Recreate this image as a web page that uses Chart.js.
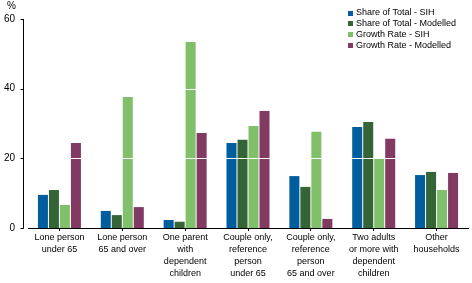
<!DOCTYPE html>
<html><head><meta charset="utf-8">
<script src="https://cdn.jsdelivr.net/npm/chart.js@4"></script>
<style>html,body{margin:0;padding:0;background:#fff}#wrap{width:472px;height:283px;position:relative}</style>
</head><body><div id="wrap"><canvas id="c"></canvas></div>
<script>
const categories = [
  ["Lone person","under 65"],
  ["Lone person","65 and over"],
  ["One parent","with","dependent","children"],
  ["Couple only,","reference","person","under 65"],
  ["Couple only,","reference","person","65 and over"],
  ["Two adults","or more with","dependent","children"],
  ["Other","households"]
];
const seriesNames = ["Share of Total - SIH","Share of Total - Modelled","Growth Rate - SIH","Growth Rate - Modelled"];
const shareSIH       = [9.5, 4.9, 2.3, 24.4, 14.9, 29.0, 15.2];
const shareModelled  = [10.9, 3.7, 1.8, 25.3, 11.8, 30.4, 16.1];
const growthSIH      = [6.6, 37.6, 53.4, 29.3, 27.6, 20.0, 10.9];
const growthModelled = [24.4, 6.0, 27.3, 33.6, 2.6, 25.6, 15.8];
const yTicks = [0, 20, 40, 60];
const unitLabel = "%";
const colors = ["#005e9e", "#356437", "#80c06a", "#823a62"];

const FONT = "'Liberation Sans', Arial, sans-serif";
const seriesData = [shareSIH, shareModelled, growthSIH, growthModelled];

const overlay = {
  id: 'overlay',
  afterDatasetsDraw(chart) {
    const ctx = chart.ctx, y = chart.scales.y, a = chart.chartArea;
    ctx.save();
    ctx.strokeStyle = '#ffffff';
    ctx.lineWidth = 1;
    yTicks.forEach(v => {
      if (v === yTicks[0] || v === yTicks[yTicks.length - 1]) return;
      const py = Math.round(y.getPixelForValue(v)) + 0.5;
      ctx.beginPath(); ctx.moveTo(a.left, py); ctx.lineTo(a.right, py); ctx.stroke();
    });
    ctx.restore();
  },
  afterDraw(chart) {
    const ctx = chart.ctx, y = chart.scales.y, a = chart.chartArea;
    ctx.save();
    // y axis line and ticks
    ctx.strokeStyle = '#000'; ctx.lineWidth = 1;
    const ax = a.left - 4.5;
    ctx.beginPath();
    ctx.moveTo(ax, y.getPixelForValue(yTicks[yTicks.length - 1]));
    ctx.lineTo(ax, y.getPixelForValue(0) + 0.5);
    ctx.stroke();
    yTicks.forEach(v => {
      const py = Math.round(y.getPixelForValue(v)) + 0.5;
      ctx.beginPath(); ctx.moveTo(ax - 3, py); ctx.lineTo(ax, py); ctx.stroke();
    });
    // unit label
    ctx.fillStyle = '#000';
    ctx.font = '10px ' + FONT;
    ctx.textAlign = 'left'; ctx.textBaseline = 'middle';
    ctx.fillText(unitLabel, 7, 6);
    // legend
    ctx.font = '9px ' + FONT;
    chart.data.datasets.forEach((ds, i) => {
      const cy = 13 + i * 10.8;
      ctx.fillStyle = ds.backgroundColor;
      ctx.fillRect(348, Math.round(cy - 2.5), 5, 5);
      ctx.fillStyle = '#000';
      ctx.fillText(ds.label, 356, cy);
    });
    ctx.restore();
  }
};

new Chart(document.getElementById('c'), {
  type: 'bar',
  data: {
    labels: categories,
    datasets: seriesNames.map((n, i) => ({
      label: n,
      data: seriesData[i],
      backgroundColor: colors[i],
      borderWidth: 0,
      categoryPercentage: 0.7,
      barPercentage: 0.91
    }))
  },
  options: {
    responsive: true,
    maintainAspectRatio: false,
    animation: false,
    layout: { padding: { top: 19, right: 4, left: 0, bottom: 0 } },
    plugins: { legend: { display: false }, tooltip: { enabled: false } },
    scales: {
      x: {
        afterFit(s) { s.height = 55; },
        grid: { display: true, drawOnChartArea: false, offset: false, drawTicks: true, tickLength: 3, color: '#000' },
        border: { display: true, color: '#000', width: 1 },
        ticks: {
          autoSkip: false, maxRotation: 0, minRotation: 0, padding: 0, color: '#000',
          font: { family: FONT, size: 9, lineHeight: 1.34 }
        }
      },
      y: {
        min: 0, max: 60,
        afterFit(s) { s.width = 28; },
        afterBuildTicks(s) { s.ticks = yTicks.map(v => ({ value: v })); },
        grid: { display: false, drawTicks: false },
        border: { display: false },
        ticks: { padding: 13, color: '#000', font: { family: FONT, size: 10 } }
      }
    }
  },
  plugins: [overlay]
});
</script>
</body></html>
